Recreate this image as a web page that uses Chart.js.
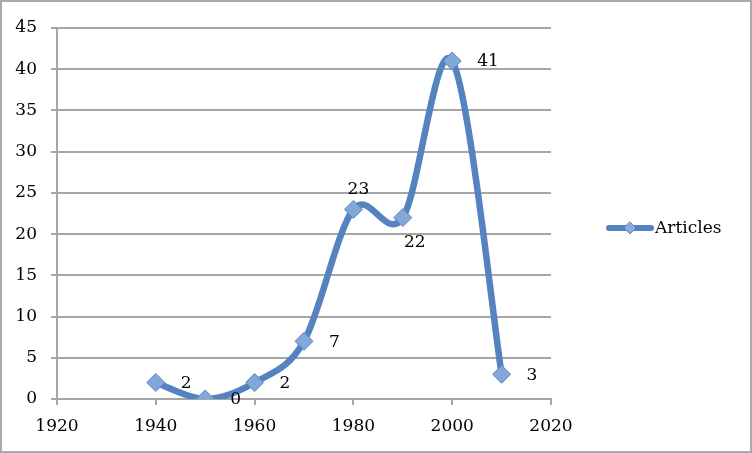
<!DOCTYPE html>
<html lang="en">
<head>
    <meta charset="UTF-8">
    <title>Articles per decade</title>
    <script src="https://cdn.jsdelivr.net/npm/chart.js"></script>
    <style>
        body { margin: 0; background: #fff; }
        canvas { display: block; }
    </style>
</head>
<body>
    <canvas id="myChart" width="752" height="453"></canvas>

    <script>
        // data
        const years = [1940, 1950, 1960, 1970, 1980, 1990, 2000, 2010];
        const articles = [2, 0, 2, 7, 23, 22, 41, 3];
        const xTicks = [1920, 1940, 1960, 1980, 2000, 2020];
        const yTicks = [0, 5, 10, 15, 20, 25, 30, 35, 40, 45];

        // where each value label sits relative to its point (most are to the right)
        const labelPlace = ['right', 'right', 'right', 'right', 'above', 'below', 'right', 'right'];

        const FONT = '"DejaVu Serif", "Liberation Serif", serif';
        const FSIZE = 17;
        const lineColor = '#5483bf';

        const ctx = document.getElementById('myChart').getContext('2d');

        // Excel-like smoothing: plain Catmull-Rom control points instead of Chart.js's weighted ones
        const smoothing = {
            id: 'smoothing',
            beforeDatasetDraw(chart, args) {
                const meta = args.meta;
                const line = meta.dataset;
                line.updateControlPoints(chart.chartArea, meta.iScale.axis);
                const pts = meta.data;
                const k = 1 / 6;
                pts.forEach((p, i) => {
                    const prev = pts[i - 1] || p;
                    const next = pts[i + 1] || p;
                    const dx = (next.x - prev.x) * k;
                    const dy = (next.y - prev.y) * k;
                    p.cp1x = p.x - dx;
                    p.cp1y = p.y - dy;
                    p.cp2x = p.x + dx;
                    p.cp2y = p.y + dy;
                });
                line._path = undefined;
            }
        };

        const extras = {
            id: 'extras',
            afterDatasetsDraw(chart) {
                const c = chart.ctx;
                const meta = chart.getDatasetMeta(0);
                c.save();
                c.fillStyle = '#000';
                c.font = FSIZE + 'px ' + FONT;
                c.textBaseline = 'middle';
                meta.data.forEach((pt, i) => {
                    const txt = String(articles[i]);
                    if (labelPlace[i] === 'above') {
                        c.textAlign = 'center';
                        c.fillText(txt, pt.x + 5, pt.y - 20);
                    } else if (labelPlace[i] === 'below') {
                        c.textAlign = 'center';
                        c.fillText(txt, pt.x + 12, pt.y + 25);
                    } else {
                        c.textAlign = 'left';
                        c.fillText(txt, pt.x + 25, pt.y + 1);
                    }
                });

                // legend on the right
                const ly = 228;
                c.strokeStyle = lineColor;
                c.lineWidth = 6;
                c.lineCap = 'round';
                c.beginPath();
                c.moveTo(609, ly);
                c.lineTo(651, ly);
                c.stroke();
                c.fillStyle = '#8aaedc';
                c.strokeStyle = '#5a86c0';
                c.lineWidth = 1;
                c.beginPath();
                c.moveTo(630, ly - 6);
                c.lineTo(636, ly);
                c.lineTo(630, ly + 6);
                c.lineTo(624, ly);
                c.closePath();
                c.fill();
                c.stroke();
                c.fillStyle = '#000';
                c.textAlign = 'left';
                c.fillText('Articles', 655, ly + 1);

                // outer frame
                c.strokeStyle = '#a9a9a9';
                c.lineWidth = 2;
                c.strokeRect(1, 1, chart.width - 2, chart.height - 2);
                c.restore();
            }
        };

        const myChart = new Chart(ctx, {
            type: 'scatter',
            data: {
                datasets: [{
                    label: 'Articles',
                    data: years.map((y, i) => ({ x: y, y: articles[i] })),
                    showLine: true,
                    borderColor: lineColor,
                    borderWidth: 6.5,
                    tension: 0.5,
                    pointStyle: 'rectRot',
                    pointRadius: 9,
                    pointBackgroundColor: '#82a7d9',
                    pointBorderColor: '#5a86c0',
                    pointBorderWidth: 1
                }]
            },
            options: {
                responsive: false,
                animation: false,
                layout: { padding: { top: 28, right: 201, left: 0, bottom: 0 } },
                plugins: {
                    legend: { display: false },
                    tooltip: { enabled: false }
                },
                scales: {
                    x: {
                        type: 'linear',
                        min: 1920,
                        max: 2020,
                        afterBuildTicks: s => { s.ticks = xTicks.map(v => ({ value: v })); },
                        afterFit: s => { s.height = 54; },
                        border: { color: '#a6a6a6', width: 2 },
                        grid: { drawOnChartArea: false, color: '#a6a6a6', lineWidth: 2, tickLength: 6 },
                        ticks: {
                            color: '#000', font: { family: FONT, size: FSIZE }, padding: 11, maxRotation: 0,
                            callback: v => String(v)
                        }
                    },
                    y: {
                        min: 0,
                        max: 45,
                        afterBuildTicks: s => { s.ticks = yTicks.map(v => ({ value: v })); },
                        afterFit: s => { s.width = 57; },
                        border: { color: '#a6a6a6', width: 2 },
                        grid: { color: '#a6a6a6', lineWidth: 2, tickLength: 6 },
                        ticks: {
                            color: '#000', font: { family: FONT, size: FSIZE }, padding: 14,
                            callback: v => String(v)
                        }
                    }
                }
            },
            plugins: [smoothing, extras]
        });
    </script>
</body>
</html>
